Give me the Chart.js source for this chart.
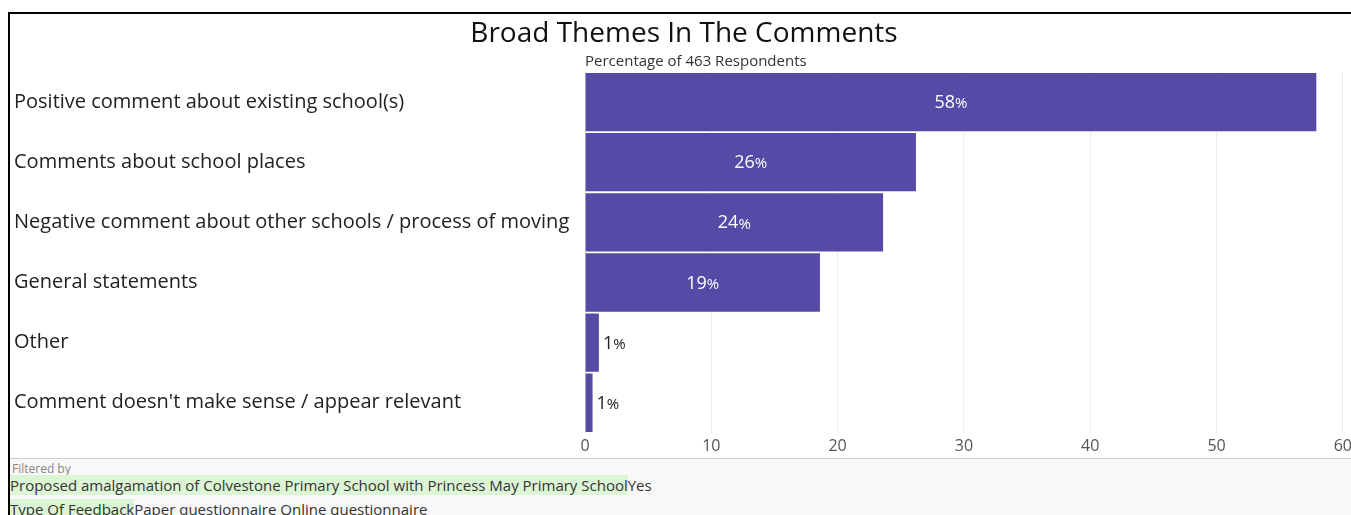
<!DOCTYPE html>
<html>
<head>
<meta charset="utf-8">
<script src="https://cdn.jsdelivr.net/npm/chart.js@4"></script>
<style>
    html, body { margin: 0; padding: 0; background: #fff; overflow: hidden; }
    body { width: 1351px; height: 515px; position: relative; font-family: "Open Sans", sans-serif; }
    #frame { position: absolute; left: 8px; top: 12px; width: 1343px; height: 503px;
             border-top: 2px solid #000; border-left: 2px solid #000; box-sizing: border-box; }
    #chartBox { position: absolute; left: 0; top: 0; width: 1356px; height: 460px; }
    #footer { position: absolute; left: 10px; top: 458px; width: 1341px; height: 57px;
              border-top: 1px solid #ccc; background: #f8f8f8; color: #333; }
    #footer .small { font-size: 12px; color: #888; position: absolute; left: 2px; top: 1px; }
    #footer .row { position: absolute; left: 0; font-size: 15px; white-space: nowrap; }
    #footer .hl { background: #dcf5d4; }
</style>
</head>
<body>
<div id="chartBox"><canvas id="themesChart"></canvas></div>
<div id="frame"></div>
<div id="footer">
    <div class="small">Filtered by</div>
    <div class="row" style="top:16px"><span class="hl">Proposed amalgamation of Colvestone Primary School with Princess May Primary School</span>Yes</div>
    <div class="row" style="top:40px"><span class="hl">Type Of Feedback</span>Paper questionnaire Online questionnaire</div>
</div>
<script>
// Chart data
const themes = [
    'Positive comment about existing school(s)',
    'Comments about school places',
    'Negative comment about other schools / process of moving',
    'General statements',
    'Other',
    "Comment doesn't make sense / appear relevant"
];
const percentages = [57.9, 26.2, 23.6, 18.6, 1.1, 0.6];
const xTicks = [0, 10, 20, 30, 40, 50, 60];

const titleText = 'Broad Themes In The Comments';
const subtitleText = 'Percentage of 463 Respondents';
const barColor = '#554ba6';
const labelFont = '"Open Sans", sans-serif';

// Title, subtitle and bar value labels
const annotatePlugin = {
    id: 'annotate',
    afterDatasetsDraw(chart) {
        const ctx = chart.ctx;
        const area = chart.chartArea;
        ctx.save();
        ctx.fillStyle = '#111';
        ctx.font = '28px ' + labelFont;
        ctx.textAlign = 'center';
        ctx.textBaseline = 'middle';
        ctx.fillText(titleText, 684, 34);

        ctx.fillStyle = '#333';
        ctx.font = '15px ' + labelFont;
        ctx.textAlign = 'left';
        ctx.fillText(subtitleText, area.left, 62);

        const meta = chart.getDatasetMeta(0);
        meta.data.forEach((bar, i) => {
            const v = percentages[i];
            const num = String(Math.round(v));
            const big = v > 5;
            ctx.font = '18px ' + labelFont;
            const wNum = ctx.measureText(num).width;
            ctx.font = '15px ' + labelFont;
            const wPct = ctx.measureText('%').width;
            const total = wNum + wPct;
            let x;
            if (big) {
                x = (bar.base + bar.x) / 2 - total / 2;
                ctx.fillStyle = '#fff';
            } else {
                x = bar.x + 4;
                ctx.fillStyle = '#222';
            }
            ctx.textAlign = 'left';
            ctx.font = '18px ' + labelFont;
            ctx.fillText(num, x, bar.y + 1);
            ctx.font = '15px ' + labelFont;
            ctx.fillText('%', x + wNum, bar.y + 2);
        });
        ctx.restore();
    }
};

document.addEventListener('DOMContentLoaded', function() {
    const ctx = document.getElementById('themesChart');
    new Chart(ctx, {
        type: 'bar',
        data: {
            labels: themes,
            datasets: [{
                data: percentages,
                backgroundColor: barColor,
                borderWidth: 0,
                barPercentage: 0.97,
                categoryPercentage: 1
            }]
        },
        options: {
            indexAxis: 'y',
            responsive: true,
            maintainAspectRatio: false,
            animation: false,
            layout: {
                padding: { top: 72, left: 14, right: 9, bottom: 0 }
            },
            plugins: {
                legend: { display: false },
                tooltip: { enabled: false }
            },
            scales: {
                x: {
                    min: 0,
                    max: 60,
                    afterBuildTicks: function(scale) {
                        scale.ticks = xTicks.map(v => ({ value: v }));
                    },
                    grid: { color: '#ececec', drawTicks: false },
                    border: { display: false },
                    ticks: {
                        color: '#555',
                        padding: 4,
                        font: { family: labelFont, size: 16 }
                    }
                },
                y: {
                    grid: { display: false },
                    border: { display: false },
                    afterFit: function(scale) {
                        scale.width = 571;
                    },
                    ticks: {
                        crossAlign: 'far',
                        color: '#222',
                        font: { family: labelFont, size: 20 }
                    }
                }
            }
        },
        plugins: [annotatePlugin]
    });
});
</script>
</body>
</html>
